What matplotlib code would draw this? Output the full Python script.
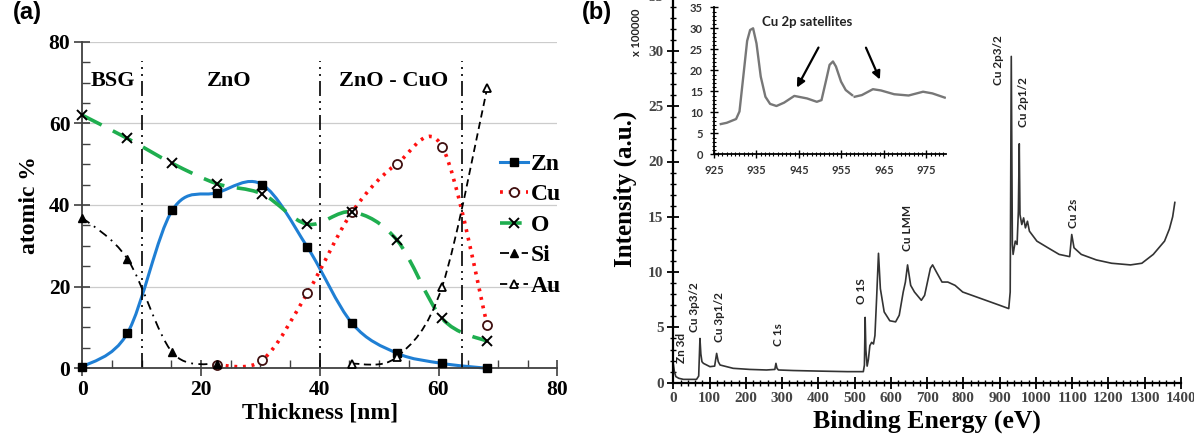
import numpy as np
import matplotlib
matplotlib.use('Agg')
import matplotlib.pyplot as plt
from matplotlib.path import Path
from matplotlib.patches import PathPatch
from matplotlib.lines import Line2D
from matplotlib.ticker import MultipleLocator

nan = np.nan

# (a) depth profile, atomic % vs thickness
thickness = [0, 7.6, 15.15, 22.7, 30.3, 37.9, 45.45, 53.0, 60.6, 68.2]
zn = [0.3, 8.6, 38.7, 43.0, 45.0, 29.7, 11.0, 3.7, 1.2, 0.0]
cu = [nan, nan, nan, 0.8, 2.0, 18.4, 38.3, 50.1, 54.3, 10.6]
ox = [62.0, 56.3, 50.2, 45.2, 42.7, 35.3, 38.3, 31.4, 12.2, 6.6]
si = [36.9, 26.8, 3.9, 1.0, nan, nan, nan, nan, nan, nan]
au = [nan, nan, nan, nan, nan, nan, 1.1, 2.8, 20.0, 68.7]
boundaries = [10, 40, 64]
regions = ['BSG', 'ZnO', 'ZnO - CuO']
region_x = [5.2, 24.8, 52.5]

# (b) XPS survey
energy = [0, 3, 7, 15, 28, 50, 64, 70, 73.5, 76, 79, 83, 101, 114, 119.5, 124, 129,
          165, 211, 257, 280, 283, 286, 290, 331, 400, 480, 524, 527, 529, 531,
          534.5, 538, 542, 547, 552, 556, 560.6, 565.8, 571, 581.5, 597, 613, 623,
          634, 640, 646, 654.6, 665, 684, 693, 709, 715, 725.7, 741, 757, 777, 798,
          849, 900, 925, 929, 932, 935, 937, 943, 948, 951.5, 954, 956, 961, 966,
          971, 976.6, 982, 1002.6, 1033, 1064, 1093, 1098.7, 1105, 1125, 1166.7,
          1208.5, 1260.7, 1292, 1323.5, 1354.6, 1368, 1377, 1383]
intensity = [1.7, 1.0, 0.55, 0.4, 0.3, 0.3, 0.3, 0.6, 4.0, 2.6, 1.9, 1.75, 1.45, 1.5,
             2.65, 1.9, 1.6, 1.3, 1.2, 1.15, 1.2, 1.75, 1.3, 1.15, 1.1, 1.05, 1.0,
             1.0, 1.6, 5.9, 3.0, 1.5, 2.1, 3.35, 3.65, 3.5, 4.26, 7.6, 11.7, 8.5,
             6.4, 5.6, 5.5, 6.1, 8.2, 9.1, 10.65, 8.8, 8.2, 7.45, 7.9, 10.35, 10.65,
             10.0, 9.1, 9.1, 8.8, 8.2, 7.6, 7.0, 6.7, 8.2, 29.5, 12.5, 11.6, 12.8,
             12.5, 15.5, 21.6, 15.2, 14.3, 14.9, 14.0, 14.6, 13.7, 12.8, 12.2, 11.6,
             11.4, 13.4, 12.2, 11.6, 11.1, 10.8, 10.65, 10.8, 11.6, 12.8, 13.9,
             15.0, 16.3]
peak_labels = ['Zn 3d', 'Cu 3p3/2', 'Cu 3p1/2', 'C 1s', 'O 1S', 'Cu LMM',
               'Cu 2p3/2', 'Cu 2p1/2', 'Cu 2s']
peak_x = [22, 59, 127, 289, 519, 646, 898, 966, 1104]
peak_y = [1.8, 4.6, 3.65, 3.35, 7.15, 11.9, 26.9, 23.1, 14.0]

# inset: Cu 2p region
inset_e = [926.6, 928, 930.2, 931, 932, 932.8, 933.5, 934.2, 935, 936, 937.1, 938.2,
           939.7, 941.5, 943.9, 946.9, 949.2, 950.3, 951.4, 952.2, 953, 953.7,
           954.9, 956, 957.5, nan, 958.1, 959.8, 962.4, 964.3, 967.4, 970.8,
           974.2, 976.4, 979.3]
inset_i = [7.2, 7.5, 8.4, 10.2, 19.5, 27.0, 29.6, 30.0, 26.4, 18.5, 13.7, 12.0, 11.5,
           12.3, 13.9, 13.3, 12.5, 12.9, 17.7, 21.3, 22.1, 20.9, 17.3, 15.3, 14.1,
           nan, 13.7, 14.1, 15.5, 15.2, 14.3, 14.0, 14.9, 14.5, 13.5]

plt.rcParams['font.family'] = 'Liberation Serif'
plt.rcParams['font.weight'] = 'bold'
plt.rcParams['axes.labelweight'] = 'bold'

W, H = 1194, 446
fig = plt.figure(figsize=(W / 100, H / 100), dpi=100)


def box(x0, x1, ytop, ybot):
    return [x0 / W, 1 - ybot / H, (x1 - x0) / W, (ybot - ytop) / H]


def smooth_path(x, y):
    # Excel-style smoothed line (cardinal spline as cubic Bezier segments)
    x = np.asarray(x, float)
    y = np.asarray(y, float)
    ok = np.isfinite(x) & np.isfinite(y)
    p = np.column_stack([x[ok], y[ok]])
    n = len(p)
    verts = [p[0]]
    codes = [Path.MOVETO]
    for i in range(n - 1):
        p0 = p[max(i - 1, 0)]
        p3 = p[min(i + 2, n - 1)]
        c1 = p[i] + (p[i + 1] - p0) / 6
        c2 = p[i + 1] - (p3 - p[i]) / 6
        verts += [c1, c2, p[i + 1]]
        codes += [Path.CURVE4] * 3
    return Path(verts, codes)


# ---------------- panel (a) ----------------
ax = fig.add_axes(box(82.3, 557.3, 41.7, 368.3))
ax.set_xlim(0, 80)
ax.set_ylim(0, 80)
for s in ['top', 'right']:
    ax.spines[s].set_visible(False)
for s in ['left', 'bottom']:
    ax.spines[s].set_color('#404040')
    ax.spines[s].set_linewidth(1.3)
ax.yaxis.set_major_locator(MultipleLocator(20))
ax.yaxis.set_minor_locator(MultipleLocator(5))
ax.xaxis.set_major_locator(MultipleLocator(20))
ax.xaxis.set_minor_locator(MultipleLocator(5))
ax.tick_params(which='major', direction='inout', length=11, width=1.2, color='#404040',
               labelsize=15.5, pad=3)
ax.tick_params(which='minor', direction='in', length=6, width=1.0, color='#404040')
ax.set_axisbelow(True)
ax.grid(axis='y', which='major', color='#cccccc', lw=0.9)
ax.set_ylabel('atomic %', fontsize=17, labelpad=6)
ax.set_xlabel('Thickness [nm]', fontsize=17, labelpad=2)

series = [
    ('Zn', zn, dict(color='#1f7fd4', lw=2.2, ls='-'),
     dict(marker='s', ms=6, mfc='black', mec='black')),
    ('Cu', cu, dict(color='#ff1010', lw=2.6, ls=(0, (0.8, 1.6))),
     dict(marker='o', ms=6.5, mfc='white', mec='#401010', mew=1.3)),
    ('O', ox, dict(color='#1fae4f', lw=2.6, ls=(0, (6, 3.5))),
     dict(marker='x', ms=7, mfc='black', mec='black', mew=1.4)),
    ('Si', si, dict(color='black', lw=1.3, ls=(0, (5, 3, 1, 3))),
     dict(marker='^', ms=6, mfc='black', mec='black')),
    ('Au', au, dict(color='black', lw=1.3, ls=(0, (4, 2.5))),
     dict(marker='^', ms=6, mfc='white', mec='black', mew=1.3)),
]
handles = []
for name, vals, lstyle, mstyle in series:
    ax.add_patch(PathPatch(smooth_path(thickness, vals), fill=False,
                           edgecolor=lstyle['color'], lw=lstyle['lw'],
                           linestyle=lstyle['ls'], zorder=2, clip_on=False))
    ax.plot(thickness, vals, ls='none', zorder=3, clip_on=False, **mstyle)
    handles.append(Line2D([], [], color=lstyle['color'], lw=lstyle['lw'],
                          ls=lstyle['ls'], **mstyle))

for b in boundaries:
    ax.plot([b, b], [0, 75.3], color='black', lw=1.2,
            ls=(0, (9, 3, 1.2, 3, 1.2, 3)), zorder=2)
for t, xr in zip(regions, region_x):
    ax.text(xr, 70.3, t, ha='center', va='center', fontsize=16)

ax.legend(handles, ['Zn', 'Cu', 'O', 'Si', 'Au'], loc='center left',
          bbox_to_anchor=(500 / W, 1 - 225 / H), bbox_transform=fig.transFigure,
          frameon=False, handlelength=1.2, handletextpad=0.1, labelspacing=0.38,
          borderpad=0, borderaxespad=0, prop=dict(size=17, weight='bold'))

fig.text(13 / W, 1 - 1 / H, '(a)', family='Liberation Sans', fontsize=17,
         weight='bold', ha='left', va='top')

# ---------------- panel (b) ----------------
bx = fig.add_axes(box(673.3, 1181, -4.4, 382.7))
bx.set_xlim(0, 1400)
bx.set_ylim(0, 35)
for s in ['top', 'right']:
    bx.spines[s].set_visible(False)
for s in ['left', 'bottom']:
    bx.spines[s].set_linewidth(1.6)
bx.xaxis.set_major_locator(MultipleLocator(100))
bx.xaxis.set_minor_locator(MultipleLocator(20))
bx.yaxis.set_major_locator(MultipleLocator(5))
bx.yaxis.set_minor_locator(MultipleLocator(1))
bx.tick_params(which='major', direction='inout', length=8, width=1.3,
               labelsize=11, labelcolor='#444444', pad=3)
bx.tick_params(which='minor', direction='inout', length=4, width=1.0)
bx.plot(energy, intensity, color='#333333', lw=1.2)
for t, px, py in zip(peak_labels, peak_x, peak_y):
    bx.text(px, py, t, rotation=90, ha='center', va='bottom', family='Lato',
            weight='bold', fontsize=8.5, color='#222222')
bx.set_xlabel('Binding Energy (eV)', fontsize=18.5, labelpad=3)
bx.set_ylabel('Intensity (a.u.)', fontsize=18, labelpad=8)

fig.text(582 / W, 1 - 1 / H, '(b)', family='Liberation Sans', fontsize=17,
         weight='bold', ha='left', va='top')
fig.text(637 / W, 1 - 32 / H, 'x 100000', rotation=90, family='Lato',
         weight='bold', fontsize=8, ha='center', va='center', color='#222222')

# inset
ix = fig.add_axes(box(714, 946, 7.3, 154.3))
ix.patch.set_alpha(0)
ix.set_xlim(925.2, 979.6)
ix.set_ylim(0, 35)
for s in ['top', 'right']:
    ix.spines[s].set_visible(False)
for s in ['left', 'bottom']:
    ix.spines[s].set_linewidth(1.3)
ix.set_xticks([925, 935, 945, 955, 965, 975])
ix.xaxis.set_minor_locator(MultipleLocator(1))
ix.yaxis.set_major_locator(MultipleLocator(5))
ix.yaxis.set_minor_locator(MultipleLocator(1))
ix.tick_params(which='major', direction='inout', length=6, width=1.0,
               labelsize=8, labelcolor='#333333', pad=5)
ix.tick_params(which='minor', direction='inout', length=3, width=0.8)
for lab in ix.get_xticklabels() + ix.get_yticklabels():
    lab.set_family('Lato')
ix.plot(inset_e, inset_i, color='#777777', lw=1.7)
ix.text(946.8, 31.5, 'Cu 2p satellites', ha='center', va='center', family='Lato',
        weight='bold', fontsize=9.5, color='#222222')
ix.annotate('', xy=(944.2, 15.3), xytext=(949.9, 26.0),
            arrowprops=dict(arrowstyle='-|>', color='black', lw=1.6,
                            mutation_scale=12))
ix.annotate('', xy=(964.3, 17.2), xytext=(960.5, 26.0),
            arrowprops=dict(arrowstyle='-|>', color='black', lw=1.6,
                            mutation_scale=12))

fig.savefig('out.png', dpi=100)
